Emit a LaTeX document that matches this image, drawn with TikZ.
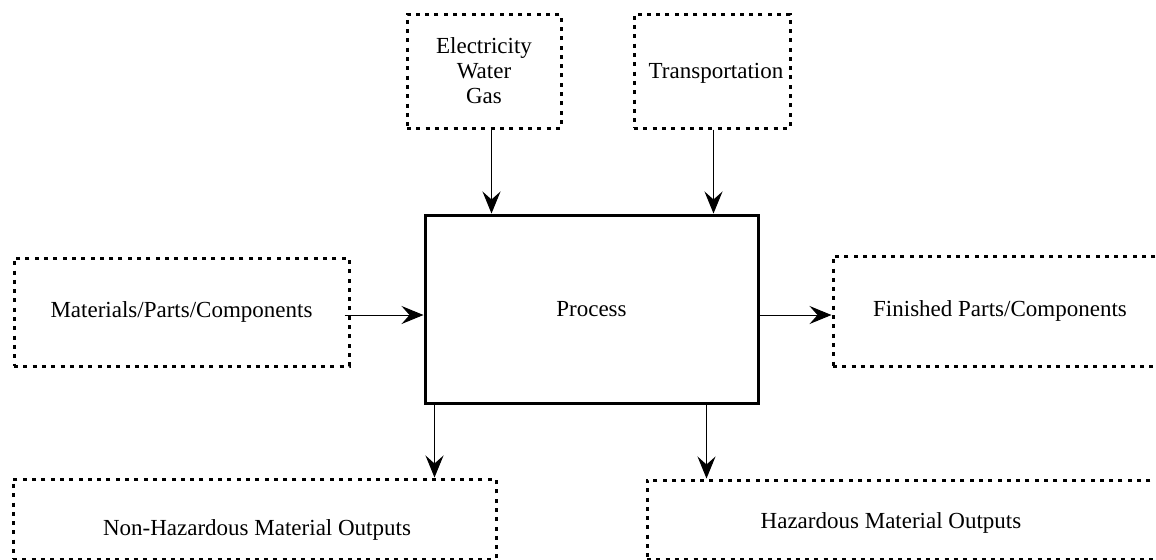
\documentclass[tikz,border=0pt]{standalone}
\usepackage{fontspec}
\setmainfont{Liberation Serif}
\usetikzlibrary{arrows.meta}

\tikzset{
    dotbox/.style = {draw, line width = 1.5pt, dash pattern = on 2pt off 2.65pt, align = center},
    procbox/.style = {draw, line width = 1.5pt},
    arr/.style = {-{Stealth[length = 11pt, width = 9pt, inset = 4pt]}, line width = 0.5pt}
}

\begin{document}
\begin{tikzpicture}[x = 0.5pt, y = -0.5pt, font = \fontsize{11.5}{12.5}\selectfont]
            \path[use as bounding box] (0,0) rectangle (1156,559);
            \clip (0,0) rectangle (1156,559);

            \node[procbox, minimum width = 166.5pt, minimum height = 94pt] (process) at (591.5,309) {Process};

            \node[dotbox, minimum width = 77pt, minimum height = 57pt] (utilities) at (484,71)
                {Electricity\\Water\\Gas};
            \node[dotbox, minimum width = 78pt, minimum height = 57pt] (transport) at (712,71) {};
            \node (transporttext) at (716,73) {Transportation};

            \node[dotbox, minimum width = 167.5pt, minimum height = 54pt] (materials) at (181.5,312)
                {Materials/Parts/Components};
            \node[dotbox, minimum width = 167pt, minimum height = 55pt] (finished) at (1000,311)
                {Finished Parts/Components};

            \node[dotbox, minimum width = 241.5pt, minimum height = 40pt] (nonhaz) at (254.5,519) {};
            \node (nonhaztext) at (257,530) {Non-Hazardous Material Outputs};
            \node[dotbox, minimum width = 266.5pt, minimum height = 39.5pt] (haz) at (913.5,519.5) {};
            \node (haztext) at (891,523) {Hazardous Material Outputs};

            \coordinate (in1) at ([xshift = 34pt]process.north west);
            \coordinate (in2) at ([xshift = 145pt]process.north west);
            \coordinate (out1) at ([xshift = 5.5pt]process.south west);
            \coordinate (out2) at ([xshift = 141.5pt]process.south west);
            \coordinate (flow) at ([yshift = -3pt]process.center);

            \draw[arr] (in1 |- utilities.south) -- (in1);
            \draw[arr] (in2 |- transport.south) -- (in2);
            \draw[arr] ([xshift = -3pt]materials.east |- flow) -- (process.west |- flow);
            \draw[arr] (process.east |- flow) -- (finished.west |- flow);
            \draw[arr] (out1) -- (out1 |- nonhaz.north);
            \draw[arr] (out2) -- (out2 |- haz.north);
        \end{tikzpicture}
\end{document}
